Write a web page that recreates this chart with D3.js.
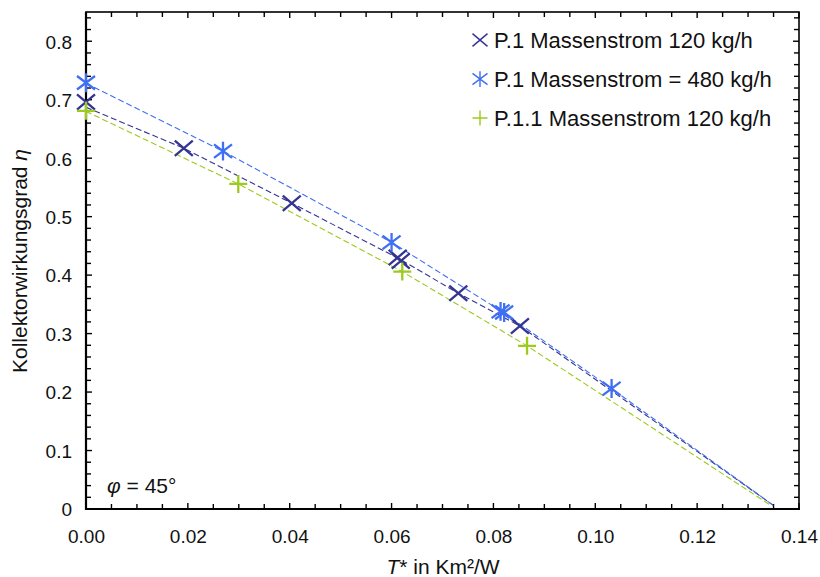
<!DOCTYPE html>
<html>
<head>
<meta charset="utf-8">
<script src="https://cdn.jsdelivr.net/npm/d3@7"></script>
<style>
  html, body { margin: 0; padding: 0; background: #fff; }
  svg { display: block; font-family: "Liberation Sans", Arial, sans-serif; }
</style>
</head>
<body>
<svg id="chart" width="820" height="577"></svg>
<script>
// Measured efficiency points: [T*, eta]
const p1_120 = [[0.0000, 0.696], [0.0192, 0.617], [0.0404, 0.523], [0.0612, 0.430], [0.0618, 0.424], [0.0731, 0.369], [0.0852, 0.313]];
const p1_480 = [[0.0000, 0.729], [0.0269, 0.612], [0.0600, 0.456], [0.0814, 0.338], [0.0821, 0.336], [0.1032, 0.206]];
const p11_120 = [[0.0000, 0.681], [0.0299, 0.556], [0.0621, 0.406], [0.0866, 0.279]];

// Fitted efficiency curves (dashed), ending near eta = 0
const fit_p1_120 = [[0.0000, 0.687], [0.0192, 0.617], [0.0404, 0.523], [0.0615, 0.428], [0.0731, 0.369], [0.0852, 0.313], [0.1350, 0.006]];
const fit_p1_480 = [[0.0000, 0.728], [0.0269, 0.612], [0.0600, 0.456], [0.0818, 0.337], [0.1032, 0.206], [0.1350, 0.006]];
const fit_p11_120 = [[0.0000, 0.680], [0.0299, 0.556], [0.0621, 0.406], [0.0866, 0.279], [0.1345, 0.006]];

const seriesNames = ["P.1 Massenstrom 120 kg/h", "P.1 Massenstrom = 480 kg/h", "P.1.1 Massenstrom 120 kg/h"];
const xTicks = [0, 0.02, 0.04, 0.06, 0.08, 0.10, 0.12, 0.14];
const yTicks = [0, 0.1, 0.2, 0.3, 0.4, 0.5, 0.6, 0.7, 0.8];

const colors = ["#343492", "#3f6ff2", "#9cca1e"];
const symbols = ["cross", "asterisk", "plus"];

const svg = d3.select("#chart");
const L = 86, R = 799, T = 12, B = 509;

const x = d3.scaleLinear().domain([0, 0.14]).range([L, R]);
const y = d3.scaleLinear().domain([0, 0.85]).range([B, T]);

// Marker path generators (centered at 0,0)
function markerPath(type, r) {
  const p = d3.path();
  if (type === "cross") {
    p.moveTo(-r, -r * 0.85); p.lineTo(r, r * 0.85);
    p.moveTo(-r, r * 0.85); p.lineTo(r, -r * 0.85);
  } else if (type === "plus") {
    p.moveTo(-r, 0); p.lineTo(r, 0);
    p.moveTo(0, -r); p.lineTo(0, r);
  } else {
    p.moveTo(-r, -r * 0.75); p.lineTo(r, r * 0.75);
    p.moveTo(-r, r * 0.75); p.lineTo(r, -r * 0.75);
    p.moveTo(0, -r * 1.05); p.lineTo(0, r * 1.05);
  }
  return p.toString();
}

// Axes with inward ticks on all four sides
const xMinor = d3.range(0, 0.1401, 0.005);
const yMinor = d3.range(0, 0.8501, 0.02);

const fmtX = d3.format(".2f");
const fmtY = v => v === 0 ? "0" : d3.format(".1f")(v);

const axisBottom = d3.axisBottom(x).tickValues(xTicks).tickSize(0).tickPadding(0).tickFormat(fmtX);
const axisLeft = d3.axisLeft(y).tickValues(yTicks).tickSize(0).tickPadding(0).tickFormat(fmtY);

const gx = svg.append("g").attr("transform", `translate(0,${B})`).call(axisBottom);
gx.select(".domain").remove();
gx.selectAll("text").attr("y", 34).attr("dy", null).style("font-size", "19px").style("font-family", "Liberation Sans, Arial, sans-serif").attr("fill", "#111");

const gy = svg.append("g").attr("transform", `translate(${L},0)`).call(axisLeft);
gy.select(".domain").remove();
gy.selectAll("text").attr("x", -14).attr("dy", "0.36em").style("font-size", "19px").style("font-family", "Liberation Sans, Arial, sans-serif").attr("fill", "#111");

const ticks = svg.append("g").attr("stroke", "#000").attr("stroke-width", 1.4);
const isMajorX = v => Math.abs(v / 0.02 - Math.round(v / 0.02)) < 1e-6;
const isMajorY = v => Math.abs(v / 0.1 - Math.round(v / 0.1)) < 1e-6;
xMinor.forEach(v => {
  const len = isMajorX(v) ? 6 : 5;
  ticks.append("line").attr("x1", x(v)).attr("x2", x(v)).attr("y1", B).attr("y2", B - len);
  ticks.append("line").attr("x1", x(v)).attr("x2", x(v)).attr("y1", T).attr("y2", T + len);
});
yMinor.forEach(v => {
  const len = isMajorY(v) ? 6 : 5;
  ticks.append("line").attr("y1", y(v)).attr("y2", y(v)).attr("x1", L).attr("x2", L + len);
  ticks.append("line").attr("y1", y(v)).attr("y2", y(v)).attr("x1", R).attr("x2", R - len);
});

// Frame
svg.append("rect").attr("x", L).attr("y", T).attr("width", R - L).attr("height", B - T)
  .attr("fill", "none").attr("stroke", "#000").attr("stroke-width", 1.6);
svg.append("line").attr("x1", L).attr("x2", L).attr("y1", T).attr("y2", B + 1).attr("stroke", "#000").attr("stroke-width", 2.2);
svg.append("line").attr("x1", L - 1).attr("x2", R + 1).attr("y1", B).attr("y2", B).attr("stroke", "#000").attr("stroke-width", 2.2);

// Dashed fit curves
const line = d3.line().x(d => x(d[0])).y(d => y(d[1]));
[fit_p1_120, fit_p1_480, fit_p11_120].forEach((f, i) => {
  svg.append("path").datum(f).attr("d", line).attr("fill", "none")
    .attr("stroke", colors[i]).attr("stroke-width", 1.1).attr("stroke-dasharray", "6,3");
});

// Measured points
[p1_120, p1_480, p11_120].forEach((pts, i) => {
  svg.append("g").selectAll("path").data(pts).join("path")
    .attr("transform", d => `translate(${x(d[0])},${y(d[1])})`)
    .attr("d", markerPath(symbols[i], 9))
    .attr("fill", "none").attr("stroke", colors[i]).attr("stroke-width", 2.3);
});

// Legend
const legendY = [40, 79, 118];
seriesNames.forEach((name, i) => {
  svg.append("path").attr("transform", `translate(480,${legendY[i]})`)
    .attr("d", markerPath(symbols[i], 7.5)).attr("fill", "none")
    .attr("stroke", colors[i]).attr("stroke-width", 1.4);
  svg.append("text").attr("x", 494).attr("y", legendY[i] + 7.5)
    .style("font-size", "22px").attr("fill", "#111").text(name);
});

// Angle annotation
const ann = svg.append("text").attr("x", 107).attr("y", 493).style("font-size", "21px").attr("fill", "#111");
ann.append("tspan").style("font-style", "italic").text("φ");
ann.append("tspan").text(" = 45°");

// Axis titles
const xt = svg.append("text").attr("x", 443).attr("y", 574).attr("text-anchor", "middle")
  .style("font-size", "21px").attr("fill", "#111");
xt.append("tspan").style("font-style", "italic").text("T");
xt.append("tspan").text("* in Km²/W");

const yt = svg.append("text").attr("transform", "translate(27,261) rotate(-90)").attr("text-anchor", "middle")
  .style("font-size", "21px").attr("fill", "#111");
yt.append("tspan").text("Kollektorwirkungsgrad ");
yt.append("tspan").style("font-style", "italic").text("η");
</script>
</body>
</html>
